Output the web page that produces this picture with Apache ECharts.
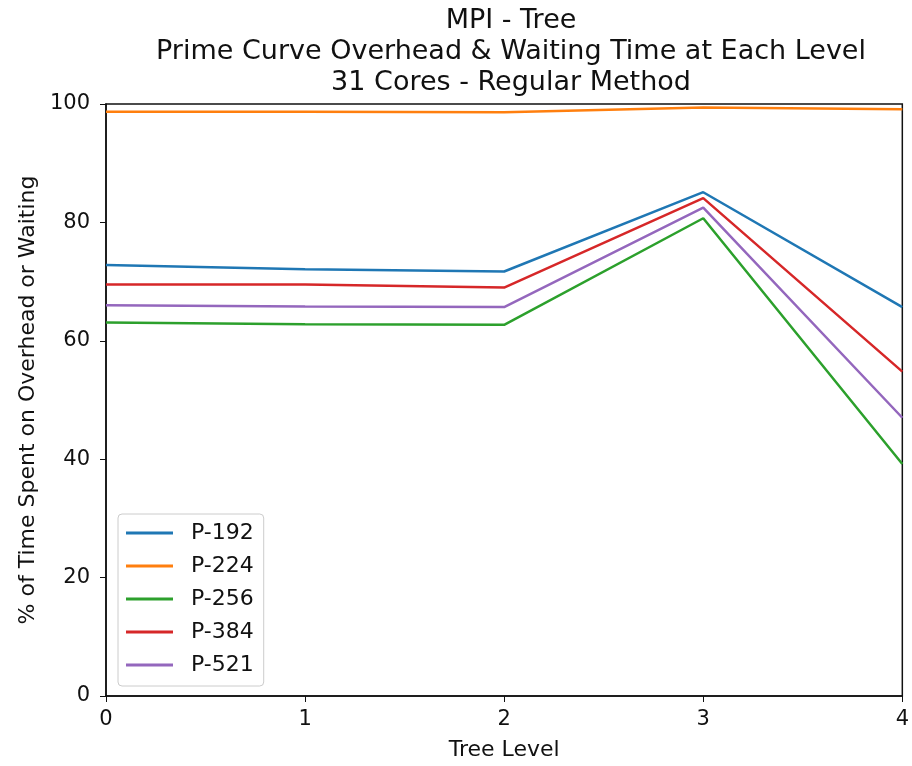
<!DOCTYPE html>
<html><head><meta charset="utf-8">
<script src="https://cdn.jsdelivr.net/npm/echarts@6/dist/echarts.min.js"></script>
<style>html,body{margin:0;padding:0;background:#fff}#c{width:912px;height:766px}</style>
</head><body><div id="c"></div>
<script>
const levels = ['0','1','2','3','4'];
const p192 = [72.8, 72.1, 71.7, 85.1, 65.7];
const p224 = [98.7, 98.7, 98.6, 99.4, 99.1];
const p256 = [63.1, 62.8, 62.7, 80.7, 39.2];
const p384 = [69.5, 69.5, 69.0, 84.1, 54.8];
const p521 = [66.0, 65.8, 65.7, 82.5, 47.0];
const names = ['P-192','P-224','P-256','P-384','P-521'];
const colors = ['#1f77b4','#ff7f0e','#2ca02c','#d62728','#9467bd'];
const values = [p192, p224, p256, p384, p521];
const font = 'DejaVu Sans';
const chart = echarts.init(document.getElementById('c'));
chart.setOption({
  animation: false,
  backgroundColor: '#fff',
  title: {
    text: 'MPI - Tree\nPrime Curve Overhead & Waiting Time at Each Level\n31 Cores - Regular Method',
    left: 506, top: 0, textAlign: 'center',
    textStyle: {fontFamily: font, fontSize: 27, fontWeight: 'normal', color: '#111', lineHeight: 31}
  },
  grid: {left: 106, right: 6, top: 104, bottom: 68, show: true, borderColor: '#111', borderWidth: 1.5, backgroundColor: 'transparent'},
  legend: {
    orient: 'vertical', left: 118, top: 514,
    data: names,
    icon: 'rect', itemWidth: 47, itemHeight: 3, itemGap: 11,
    padding: [8, 10, 10, 8],
    borderColor: '#ccc', borderWidth: 1, borderRadius: 4, backgroundColor: '#fff',
    textStyle: {fontFamily: font, fontSize: 22, color: '#111', padding: [0,0,0,13]}
  },
  xAxis: {
    type: 'category', data: levels, boundaryGap: false,
    name: 'Tree Level', nameLocation: 'middle', nameGap: 43,
    nameTextStyle: {fontFamily: font, fontSize: 22, color: '#111'},
    axisLine: {lineStyle: {color: '#111', width: 1.5}},
    axisTick: {show: true, alignWithLabel: true, length: 6, lineStyle: {color: '#111'}},
    axisLabel: {fontFamily: font, fontSize: 21, color: '#111', margin: 13},
    splitLine: {show: false}
  },
  yAxis: {
    type: 'value', min: 0, max: 100, interval: 20,
    name: '% of Time Spent on Overhead or Waiting', nameLocation: 'middle', nameGap: 65,
    nameTextStyle: {fontFamily: font, fontSize: 22, color: '#111'},
    axisLine: {show: true, lineStyle: {color: '#111', width: 1.5}},
    axisTick: {show: true, length: 6, lineStyle: {color: '#111'}},
    axisLabel: {fontFamily: font, fontSize: 21, color: '#111', margin: 16},
    splitLine: {show: false}
  },
  series: names.map((n, i) => ({
    name: n, type: 'line', data: values[i], symbol: 'none',
    lineStyle: {color: colors[i], width: 2.5}, itemStyle: {color: colors[i]}
  }))
});
</script></body></html>
